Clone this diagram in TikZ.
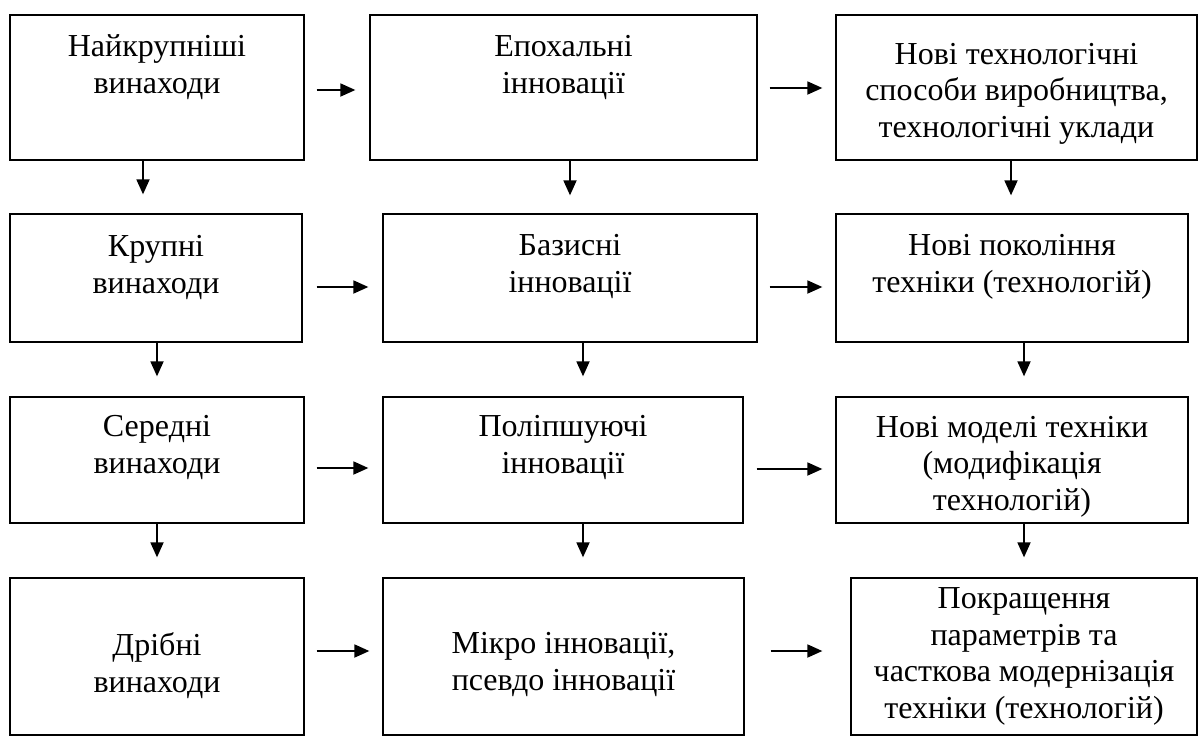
\documentclass[tikz,border=0pt]{standalone}
\usepackage{fontspec}
\setmainfont{Liberation Serif}
\usetikzlibrary{arrows.meta,fit}
\tikzset{
  box/.style={draw, line width=1.3pt, inner sep=0pt},
  % anchored at the baseline of the last line
  lbl/.style={align=center, anchor=base, inner sep=0pt, font=\fontsize{32}{36.5}\selectfont},
  arr/.style={line width=1.8pt, -{Triangle[length=15pt,width=13pt]}},
}
\begin{document}
\begin{tikzpicture}[x=1pt,y=-1pt]
\useasboundingbox[fill=white] (0,0) rectangle (1198,736);

% boxes: column a = inventions, b = innovations, c = technology level
\node[box, fit={(10,15) (304,160)}]   (a1) {};
\node[box, fit={(370,15) (757,160)}]  (b1) {};
\node[box, fit={(836,15) (1197,160)}] (c1) {};
\node[box, fit={(10,214) (302,342)}]  (a2) {};
\node[box, fit={(383,214) (757,342)}] (b2) {};
\node[box, fit={(836,214) (1188,342)}] (c2) {};
\node[box, fit={(10,397) (304,523)}]  (a3) {};
\node[box, fit={(383,397) (743,523)}] (b3) {};
\node[box, fit={(836,397) (1188,523)}] (c3) {};
\node[box, fit={(10,578) (304,735)}]  (a4) {};
\node[box, fit={(383,578) (744,735)}] (b4) {};
\node[box, fit={(851,578) (1197,735)}] (c4) {};

% labels
\node[lbl] (ta1) at (a1.north |- 0,93)  {Найкрупніші\\винаходи};
\node[lbl] (tb1) at (b1.north |- 0,93)  {Епохальні\\інновації};
\node[lbl] (tc1) at (c1.north |- 0,137) {Нові технологічні\\способи виробництва,\\технологічні уклади};
\node[lbl] (ta2) at (a2.north |- 0,293) {Крупні\\винаходи};
\node[lbl] (tb2) at (b2.north |- 0,292) {Базисні\\інновації};
\node[lbl] (tc2) at (c2.north |- 0,292) {Нові покоління\\техніки (технологій)};
\node[lbl] (ta3) at (a3.north |- 0,473) {Середні\\винаходи};
\node[lbl] (tb3) at (b3.north |- 0,473) {Поліпшуючі\\інновації};
\node[lbl] (tc3) at (c3.north |- 0,510) {Нові моделі техніки\\(модифікація\\технологій)};
\node[lbl] (ta4) at (a4.north |- 0,692) {Дрібні\\винаходи};
\node[lbl] (tb4) at (b4.north |- 0,690) {Мікро інновації,\\псевдо інновації};
\node[lbl] (tc4) at (c4.north |- 0,718) {Покращення\\параметрів та\\часткова модернізація\\техніки (технологій)};

% horizontal arrows
\draw[arr, shorten <=12pt, shorten >=14pt] (a1.east |- 0,90)  -- (b1.west |- 0,90);
\draw[arr, shorten <=12pt, shorten >=13pt] (b1.east |- 0,88)  -- (c1.west |- 0,88);
\draw[arr, shorten <=14pt, shorten >=14pt] (a2.east |- 0,287) -- (b2.west |- 0,287);
\draw[arr, shorten <=12pt, shorten >=13pt] (b2.east |- 0,287) -- (c2.west |- 0,287);
\draw[arr, shorten <=12pt, shorten >=14pt] (a3.east |- 0,468) -- (b3.west |- 0,468);
\draw[arr, shorten <=13pt, shorten >=13pt] (b3.east |- 0,469) -- (c3.west |- 0,469);
\draw[arr, shorten <=12pt, shorten >=13pt] (a4.east |- 0,651) -- (b4.west |- 0,651);
\draw[arr, shorten <=26pt, shorten >=28pt] (b4.east |- 0,651) -- (c4.west |- 0,651);

% vertical arrows
\draw[arr, shorten >=19pt] (a1.south -| 143,0)  -- (a2.north -| 143,0);
\draw[arr, shorten >=18pt] (b1.south -| 570,0)  -- (b2.north -| 570,0);
\draw[arr, shorten >=18pt] (c1.south -| 1011,0) -- (c2.north -| 1011,0);
\draw[arr, shorten >=20pt] (a2.south -| 157,0)  -- (a3.north -| 157,0);
\draw[arr, shorten >=20pt] (b2.south -| 583,0)  -- (b3.north -| 583,0);
\draw[arr, shorten >=20pt] (c2.south -| 1024,0) -- (c3.north -| 1024,0);
\draw[arr, shorten >=20pt] (a3.south -| 157,0)  -- (a4.north -| 157,0);
\draw[arr, shorten >=20pt] (b3.south -| 583,0)  -- (b4.north -| 583,0);
\draw[arr, shorten >=20pt] (c3.south -| 1024,0) -- (c4.north -| 1024,0);
\end{tikzpicture}
\end{document}
